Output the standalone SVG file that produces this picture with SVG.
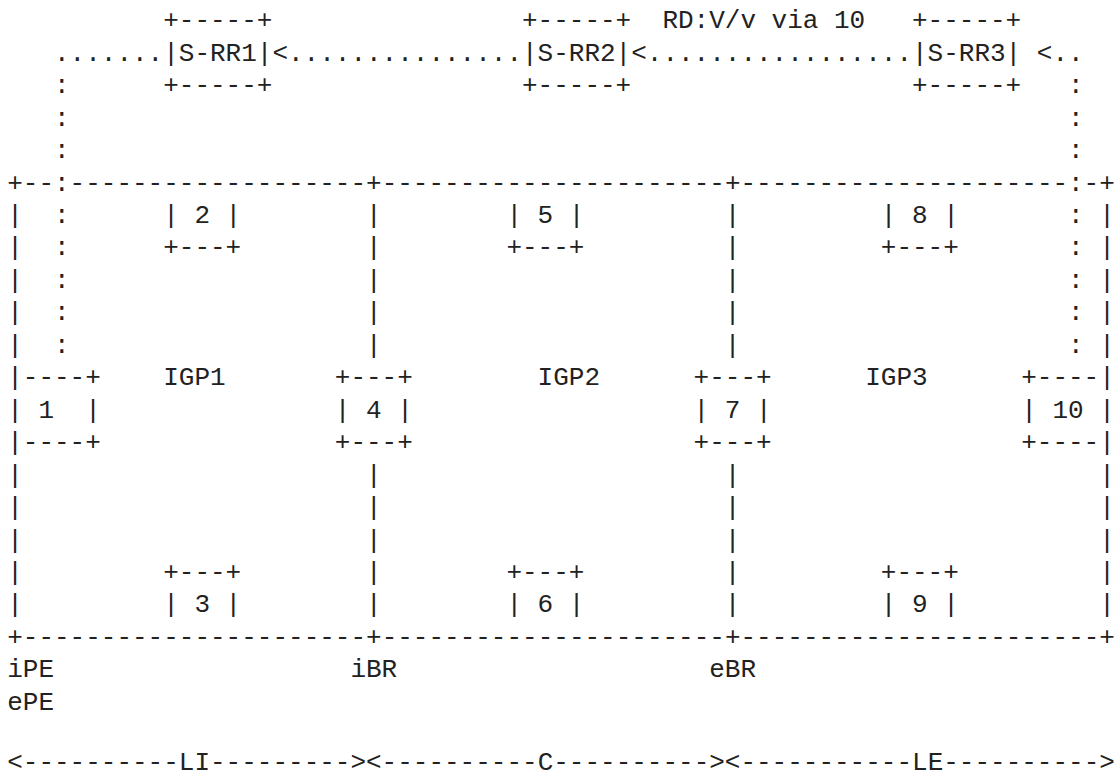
<svg xmlns="http://www.w3.org/2000/svg" width="1116" height="778" viewBox="0 0 1116 778">
<style>
text { font-family: "Liberation Mono", "DejaVu Sans Mono", monospace; font-size: 26px; fill: #222; white-space: pre; }
</style>
<rect width="1116" height="778" fill="#fff"/>
<g id="frame" xml:space="preserve">
<text x="7.2" y="190.55">+--</text>
<text x="69.6" y="190.55">-------------------+----------------------+---------------------</text>
<text x="1083.6" y="190.55">-+</text>
<text><tspan x="7.2" y="223">|</tspan><tspan x="7.2" y="255.45">|</tspan><tspan x="7.2" y="287.9">|</tspan><tspan x="7.2" y="320.35">|</tspan><tspan x="7.2" y="352.8">|</tspan><tspan x="7.2" y="385.25">|</tspan><tspan x="7.2" y="417.7">|</tspan><tspan x="7.2" y="450.15">|</tspan><tspan x="7.2" y="482.6">|</tspan><tspan x="7.2" y="515.05">|</tspan><tspan x="7.2" y="547.5">|</tspan><tspan x="7.2" y="579.95">|</tspan><tspan x="7.2" y="612.4">|</tspan></text>
<text><tspan x="1099.2" y="223">|</tspan><tspan x="1099.2" y="255.45">|</tspan><tspan x="1099.2" y="287.9">|</tspan><tspan x="1099.2" y="320.35">|</tspan><tspan x="1099.2" y="352.8">|</tspan><tspan x="1099.2" y="385.25">|</tspan><tspan x="1099.2" y="417.7">|</tspan><tspan x="1099.2" y="450.15">|</tspan><tspan x="1099.2" y="482.6">|</tspan><tspan x="1099.2" y="515.05">|</tspan><tspan x="1099.2" y="547.5">|</tspan><tspan x="1099.2" y="579.95">|</tspan><tspan x="1099.2" y="612.4">|</tspan></text>
<text><tspan x="366" y="223">|</tspan><tspan x="366" y="255.45">|</tspan><tspan x="366" y="287.9">|</tspan><tspan x="366" y="320.35">|</tspan><tspan x="366" y="352.8">|</tspan><tspan x="366" y="482.6">|</tspan><tspan x="366" y="515.05">|</tspan><tspan x="366" y="547.5">|</tspan><tspan x="366" y="579.95">|</tspan><tspan x="366" y="612.4">|</tspan></text>
<text><tspan x="724.8" y="223">|</tspan><tspan x="724.8" y="255.45">|</tspan><tspan x="724.8" y="287.9">|</tspan><tspan x="724.8" y="320.35">|</tspan><tspan x="724.8" y="352.8">|</tspan><tspan x="724.8" y="482.6">|</tspan><tspan x="724.8" y="515.05">|</tspan><tspan x="724.8" y="547.5">|</tspan><tspan x="724.8" y="579.95">|</tspan><tspan x="724.8" y="612.4">|</tspan></text>
<text x="7.2" y="644.85">+----------------------+----------------------+-----------------------+</text>
</g>
<g id="igp1"><text x="163.2" y="385.25">IGP1</text></g>
<g id="igp2"><text x="537.6" y="385.25">IGP2</text></g>
<g id="igp3"><text x="865.2" y="385.25">IGP3</text></g>
<g id="srr1" xml:space="preserve">
<text x="163.2" y="28.3">+-----+</text>
<text x="163.2" y="60.75">|S-RR1|</text>
<text x="163.2" y="93.2">+-----+</text>
</g>
<g id="srr2" xml:space="preserve">
<text x="522" y="28.3">+-----+</text>
<text x="522" y="60.75">|S-RR2|</text>
<text x="522" y="93.2">+-----+</text>
</g>
<g id="srr3" xml:space="preserve">
<text x="912" y="28.3">+-----+</text>
<text x="912" y="60.75">|S-RR3|</text>
<text x="912" y="93.2">+-----+</text>
</g>
<g id="node1" xml:space="preserve">
<text x="22.8" y="385.25">----+</text>
<text x="38.4" y="417.7">1</text>
<text x="85.2" y="417.7">|</text>
<text x="22.8" y="450.15">----+</text>
</g>
<g id="node2" xml:space="preserve">
<text x="163.2" y="223">| 2 |</text>
<text x="163.2" y="255.45">+---+</text>
</g>
<g id="node3" xml:space="preserve">
<text x="163.2" y="579.95">+---+</text>
<text x="163.2" y="612.4">| 3 |</text>
</g>
<g id="node4" xml:space="preserve">
<text x="334.8" y="385.25">+---+</text>
<text x="334.8" y="417.7">| 4 |</text>
<text x="334.8" y="450.15">+---+</text>
</g>
<g id="node5" xml:space="preserve">
<text x="506.4" y="223">| 5 |</text>
<text x="506.4" y="255.45">+---+</text>
</g>
<g id="node6" xml:space="preserve">
<text x="506.4" y="579.95">+---+</text>
<text x="506.4" y="612.4">| 6 |</text>
</g>
<g id="node7" xml:space="preserve">
<text x="693.6" y="385.25">+---+</text>
<text x="693.6" y="417.7">| 7 |</text>
<text x="693.6" y="450.15">+---+</text>
</g>
<g id="node8" xml:space="preserve">
<text x="880.8" y="223">| 8 |</text>
<text x="880.8" y="255.45">+---+</text>
</g>
<g id="node9" xml:space="preserve">
<text x="880.8" y="579.95">+---+</text>
<text x="880.8" y="612.4">| 9 |</text>
</g>
<g id="node10" xml:space="preserve">
<text x="1021.2" y="385.25">+----</text>
<text x="1021.2" y="417.7">|</text>
<text x="1052.4" y="417.7">10</text>
<text x="1021.2" y="450.15">+----</text>
</g>
<g id="roles">
<text x="7.2" y="677.3">iPE</text>
<text x="7.2" y="709.75">ePE</text>
<text x="350.4" y="677.3">iBR</text>
<text x="709.2" y="677.3">eBR</text>
</g>
<g id="connectors" xml:space="preserve">
<text x="54" y="60.75">.......</text>
<text x="272.4" y="60.75">&lt;...............</text>
<text x="631.2" y="60.75">&lt;.................</text>
<text x="1036.8" y="60.75">&lt;..</text>
<text x="662.4" y="28.3">RD:V/v via 10</text>
<text><tspan x="54" y="93.2">:</tspan><tspan x="54" y="125.65">:</tspan><tspan x="54" y="158.1">:</tspan><tspan x="54" y="190.55">:</tspan><tspan x="54" y="223">:</tspan><tspan x="54" y="255.45">:</tspan><tspan x="54" y="287.9">:</tspan><tspan x="54" y="320.35">:</tspan><tspan x="54" y="352.8">:</tspan></text>
<text><tspan x="1068" y="93.2">:</tspan><tspan x="1068" y="125.65">:</tspan><tspan x="1068" y="158.1">:</tspan><tspan x="1068" y="190.55">:</tspan><tspan x="1068" y="223">:</tspan><tspan x="1068" y="255.45">:</tspan><tspan x="1068" y="287.9">:</tspan><tspan x="1068" y="320.35">:</tspan><tspan x="1068" y="352.8">:</tspan></text>
</g>
<g id="scale" xml:space="preserve">
<text x="7.2" y="770">&lt;----------LI---------&gt;</text>
<text x="366" y="770">&lt;----------C----------&gt;</text>
<text x="724.8" y="770">&lt;-----------LE----------&gt;</text>
</g>
</svg>
